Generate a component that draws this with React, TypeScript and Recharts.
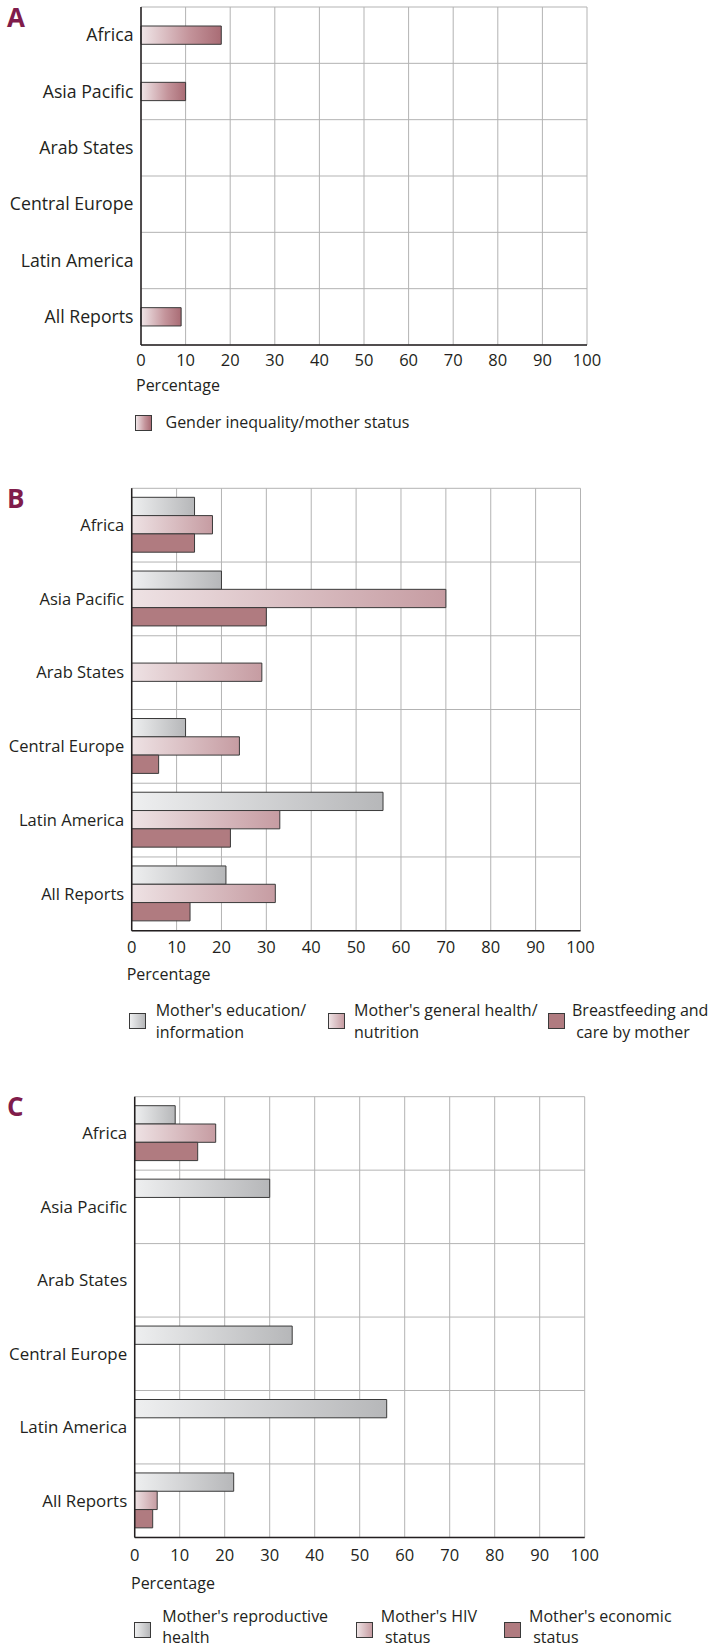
import React from 'react';
import { BarChart, Bar, XAxis, YAxis, CartesianGrid } from 'recharts';

const regions = ['Africa', 'Asia Pacific', 'Arab States', 'Central Europe', 'Latin America', 'All Reports'];
const percentTicks = [0, 10, 20, 30, 40, 50, 60, 70, 80, 90, 100];

// A
const genderInequality = [18, 10, 0, 0, 0, 9];
// B
const educationInfo = [14, 20, 0, 12, 56, 21];
const generalHealth = [18, 70, 29, 24, 33, 32];
const breastfeeding = [14, 30, 0, 6, 22, 13];
// C
const reproductiveHealth = [9, 30, 0, 35, 56, 22];
const hivStatus = [18, 0, 0, 0, 0, 5];
const economicStatus = [14, 0, 0, 0, 0, 4];

const legendA = ['Gender inequality/mother status'];
const legendB = ["Mother's education/\ninformation", "Mother's general health/\nnutrition", 'Breastfeeding and\n care by mother'];
const legendC = ["Mother's reproductive\nhealth", "Mother's HIV\n status", "Mother's economic\n status"];

const W = 710;
const INK = '#231f20';
const MAROON = '#801c4b';

const GRAD_A = 'linear-gradient(to right, #f0e6e8, #c4949b 60%, #a96c75)';
const GRAD_GRAY = 'linear-gradient(to right, #eeeff0, #b6b7b9)';
const GRAD_PINK = 'linear-gradient(to right, #eee2e4, #c69ca2)';
const SOLID_DARK = '#b07b80';

function Gradients({ id }: { id: string }) {
  return (
    <defs>
      <linearGradient id={id + '-a'} x1="0" y1="0" x2="1" y2="0">
        <stop offset="0%" stopColor="#f0e6e8" />
        <stop offset="60%" stopColor="#c4949b" />
        <stop offset="100%" stopColor="#a96c75" />
      </linearGradient>
      <linearGradient id={id + '-gray'} x1="0" y1="0" x2="1" y2="0">
        <stop offset="0%" stopColor="#eeeff0" />
        <stop offset="100%" stopColor="#b6b7b9" />
      </linearGradient>
      <linearGradient id={id + '-pink'} x1="0" y1="0" x2="1" y2="0">
        <stop offset="0%" stopColor="#eee2e4" />
        <stop offset="100%" stopColor="#c69ca2" />
      </linearGradient>
    </defs>
  );
}

type Series = { values: number[]; fill: string };

function RegionChart(props: {
  id: string;
  top: number;
  height: number;
  plotTop: number;
  plotLeft: number;
  plotRight: number;
  plotBottom: number;
  tickMargin: number;
  labelSize: number;
  series: Series[];
}) {
  const { id, top, height, plotTop, plotLeft, plotRight, plotBottom, tickMargin, labelSize, series } = props;
  const rows = regions.map((region, i) => {
    const r: any = { region };
    series.forEach((s, k) => (r['s' + k] = s.values[i]));
    return r;
  });
  const xAxisHeight = 30;
  const fillOf = (f: string) => (f.startsWith('#') ? f : `url(#${id}-${f})`);

  return (
    <div style={{ position: 'absolute', left: 0, top }}>
      <BarChart
        width={W}
        height={height}
        data={rows}
        layout="vertical"
        barGap={0}
        margin={{ top: plotTop - top, right: W - plotRight, left: 0, bottom: top + height - plotBottom - xAxisHeight }}
      >
        <Gradients id={id} />
        <CartesianGrid
          stroke="#b3b3b3"
          strokeWidth={1}
          horizontalCoordinatesGenerator={({ offset }: any) =>
            regions.map((_, i) => offset.top + (i * offset.height) / regions.length).concat(offset.top + offset.height)
          }
        />
        <XAxis
          type="number"
          domain={[0, 100]}
          ticks={percentTicks}
          interval={0}
          height={xAxisHeight}
          tickLine={false}
          tickMargin={tickMargin}
          axisLine={{ stroke: INK, strokeWidth: 1.5 }}
          tick={{ fill: INK, fontSize: 16.5 }}
        />
        <YAxis
          type="category"
          dataKey="region"
          width={plotLeft}
          tickLine={false}
          tickMargin={1.5}
          interval={0}
          axisLine={{ stroke: INK, strokeWidth: 1.5 }}
          tick={{ fill: INK, fontSize: labelSize }}
        />
        {series.map((s, k) => (
          <Bar
            key={k}
            dataKey={'s' + k}
            fill={fillOf(s.fill)}
            stroke="#3a3a3a"
            strokeWidth={1}
            barSize={18.3}
            isAnimationActive={false}
          />
        ))}
      </BarChart>
    </div>
  );
}

function Text({ x, y, children, style }: any) {
  return (
    <div style={{ position: 'absolute', left: x, top: y, fontSize: 16, lineHeight: '22px', color: INK, whiteSpace: 'pre', ...style }}>
      {children}
    </div>
  );
}

function Swatch({ x, y, bg }: { x: number; y: number; bg: string }) {
  return (
    <div
      style={{
        position: 'absolute',
        left: x,
        top: y,
        width: 15,
        height: 14,
        background: bg,
        border: '1px solid #3a3a3a',
      }}
    />
  );
}

function PanelLetter({ y, children }: any) {
  return (
    <div style={{ position: 'absolute', left: 7, top: y, fontSize: 26, lineHeight: '26px', fontWeight: 700, color: MAROON }}>
      {children}
    </div>
  );
}

export default function App() {
  return (
    <div
      style={{
        position: 'absolute',
        left: 0,
        top: 0,
        width: W,
        height: 1647,
        background: '#fff',
        fontFamily: '"Open Sans", sans-serif',
        overflow: 'hidden',
      }}
    >
      {/* A */}
      <PanelLetter y={3.5}>A</PanelLetter>
      <RegionChart
        id="pa"
        top={0}
        height={390}
        plotTop={7}
        plotLeft={141}
        plotRight={587}
        plotBottom={345}
        tickMargin={3}
        labelSize={17.7}
        series={[{ values: genderInequality, fill: 'a' }]}
      />
      <Text x={136} y={374}>Percentage</Text>
      <Swatch x={135} y={415} bg={GRAD_A} />
      <Text x={165.5} y={410.5}>{legendA[0]}</Text>

      {/* B */}
      <PanelLetter y={484.5}>B</PanelLetter>
      <RegionChart
        id="pb"
        top={480}
        height={490}
        plotTop={488.3}
        plotLeft={131.7}
        plotRight={580.5}
        plotBottom={930.7}
        tickMargin={4.3}
        labelSize={16.5}
        series={[
          { values: educationInfo, fill: 'gray' },
          { values: generalHealth, fill: 'pink' },
          { values: breastfeeding, fill: SOLID_DARK },
        ]}
      />
      <Text x={126.7} y={963}>Percentage</Text>
      <Swatch x={128.5} y={1013} bg={GRAD_GRAY} />
      <Text x={155.7} y={999}>{legendB[0]}</Text>
      <Swatch x={328} y={1013} bg={GRAD_PINK} />
      <Text x={354} y={999}>{legendB[1]}</Text>
      <Swatch x={548} y={1013} bg={SOLID_DARK} />
      <Text x={572} y={999}>{legendB[2]}</Text>

      {/* C */}
      <PanelLetter y={1092.5}>C</PanelLetter>
      <RegionChart
        id="pc"
        top={1090}
        height={490}
        plotTop={1096.7}
        plotLeft={134.7}
        plotRight={584.7}
        plotBottom={1537.4}
        tickMargin={5.6}
        labelSize={16.9}
        series={[
          { values: reproductiveHealth, fill: 'gray' },
          { values: hivStatus, fill: 'pink' },
          { values: economicStatus, fill: SOLID_DARK },
        ]}
      />
      <Text x={131} y={1572}>Percentage</Text>
      <Swatch x={133.5} y={1622} bg={GRAD_GRAY} />
      <Text x={162.3} y={1606} style={{ lineHeight: '21px' }}>{legendC[0]}</Text>
      <Swatch x={356} y={1622} bg={GRAD_PINK} />
      <Text x={380.8} y={1606} style={{ lineHeight: '21px' }}>{legendC[1]}</Text>
      <Swatch x={503.6} y={1622} bg={SOLID_DARK} />
      <Text x={529} y={1606} style={{ lineHeight: '21px' }}>{legendC[2]}</Text>
    </div>
  );
}
